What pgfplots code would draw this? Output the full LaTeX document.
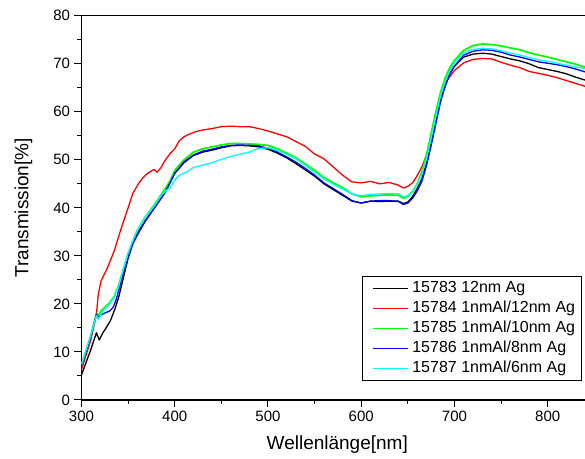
\documentclass[border=0pt]{standalone}
\usepackage{fontspec}
\setmainfont{Liberation Sans}
\usepackage{pgfplots}
\pgfplotsset{compat=1.18}
\definecolor{ogreen}{rgb}{0,1,0}
\definecolor{ocyan}{rgb}{0,1,1}
\definecolor{oblue}{rgb}{0,0,1}
\definecolor{ored}{rgb}{1,0,0}

% transmission spectra, values (nm, %)
\pgfplotstableread{
lam T
300 5.2
310 10.5
316 14.0
319 12.5
323 14.0
327 15.2
331 16.5
336 19.0
340 21.5
345 25.5
350 29.5
355 32.5
360 34.8
368 37.2
378 40.0
389 43.0
395 45.3
400 47.2
410 49.4
420 50.9
430 51.6
440 52.0
450 52.5
460 52.9
470 53.0
480 52.9
490 52.7
500 52.2
510 51.4
520 50.4
530 49.2
540 47.9
550 46.6
560 45.0
570 43.8
580 42.6
590 41.4
600 41.0
610 41.4
620 41.3
630 41.4
640 41.4
645 40.9
650 41.2
655 42.3
660 44.0
665 46.0
670 49.3
675 53.5
680 58.0
685 62.5
690 65.5
695 68.0
700 69.5
710 71.4
720 72.0
730 72.2
740 72.0
750 71.5
760 71.0
770 70.6
780 70.0
790 69.2
800 68.8
810 68.4
820 67.9
830 67.2
840 66.6
}\tblack

\pgfplotstableread{
lam T
300 6.3
310 12.5
316 17.8
318 22.0
321 24.8
328 27.6
335 31.0
343 36.0
350 40.0
355 43.0
361 45.0
366 46.3
371 47.2
376 47.8
378 48.0
381 47.4
385 48.3
390 50.0
395 51.3
400 52.3
405 54.0
410 54.8
415 55.3
423 55.9
430 56.2
440 56.5
450 56.9
460 57.0
470 56.9
480 56.9
490 56.5
500 56.0
510 55.4
520 54.8
530 53.8
540 52.8
550 51.2
560 50.2
570 48.5
580 46.8
590 45.4
600 45.2
610 45.5
620 45.0
630 45.3
640 44.7
645 44.1
650 44.5
655 45.2
660 46.7
665 48.5
670 51.0
675 55.0
680 59.5
685 63.5
690 66.0
700 68.6
710 70.2
720 70.9
730 71.1
740 71.0
750 70.3
760 69.7
770 69.2
780 68.4
790 68.0
800 67.6
810 67.1
820 66.5
830 65.9
840 65.3
}\tred

\pgfplotstableread{
lam T
300 7.2
310 13.4
316 18.0
318 17.6
321 18.5
325 19.3
330 20.2
335 21.5
340 24.0
343 26.0
350 30.5
355 33.0
359 35.0
368 38.0
378 40.6
389 43.8
395 45.6
400 47.8
410 50.0
420 51.6
430 52.3
440 52.7
450 53.1
460 53.4
470 53.4
480 53.3
490 53.2
500 53.0
510 52.3
520 51.4
530 50.4
540 49.1
550 47.8
560 46.3
570 45.2
580 44.2
590 42.9
600 42.3
610 42.5
620 42.6
630 42.7
640 42.6
645 42.0
650 42.4
655 43.4
660 45.0
665 47.5
670 51.0
675 55.5
680 60.0
685 64.0
690 67.0
695 69.2
700 70.7
710 72.8
720 73.8
730 74.1
740 74.0
750 73.7
760 73.3
770 72.9
780 72.3
790 71.8
800 71.4
810 70.9
820 70.4
830 69.9
840 69.3
}\tgreen

\pgfplotstableread{
lam T
300 7.2
310 13.2
316 17.9
318 17.2
321 17.7
325 18.1
330 18.5
334 19.3
337 20.8
340 22.8
343 25.0
350 29.8
355 32.5
359 34.0
368 37.1
378 39.9
389 43.0
395 45.2
400 47.2
410 49.6
420 51.0
430 51.8
440 52.2
450 52.7
460 53.0
470 53.1
480 53.0
490 52.9
500 52.4
510 51.6
520 50.6
530 49.5
540 48.2
550 46.8
560 45.2
570 44.0
580 42.8
590 41.5
600 41.0
610 41.4
620 41.5
630 41.5
640 41.3
645 40.7
650 41.0
655 42.0
660 43.5
665 45.5
670 48.8
675 53.0
680 57.5
685 62.0
690 65.3
695 67.8
700 69.5
710 71.8
720 72.6
730 72.9
740 72.8
750 72.4
760 71.8
770 71.4
780 70.9
790 70.4
800 70.1
810 69.8
820 69.4
830 68.9
840 68.3
}\tblue

\pgfplotstableread{
lam T
300 7.4
310 13.5
316 17.6
318 16.8
321 17.8
325 19.0
330 20.0
335 21.3
340 23.8
343 26.0
350 30.5
355 33.2
359 35.0
368 38.0
378 40.4
385 42.5
390 43.5
395 44.2
400 45.8
405 46.8
413 47.5
420 48.4
430 48.9
440 49.4
450 50.1
460 50.7
470 51.2
480 51.6
490 52.4
500 52.5
510 52.0
520 51.1
530 50.2
540 48.8
550 47.4
560 46.0
570 44.9
580 43.9
590 42.9
600 42.5
610 42.8
620 42.9
630 43.0
640 42.9
645 42.3
650 42.5
655 43.3
660 44.8
665 47.0
670 50.2
675 54.5
680 59.0
685 63.3
690 66.3
695 68.6
700 70.2
710 72.3
720 73.0
730 73.2
740 73.1
750 72.7
760 72.2
770 71.8
780 71.3
790 70.8
800 70.5
810 70.1
820 69.7
830 69.3
840 69.0
}\tcyan

\begin{document}
\begin{tikzpicture}
\begin{axis}[
  scale only axis, width=503.5pt, height=384.3pt,
  xmin=300, xmax=840, ymin=0, ymax=80,
  axis x line=box, axis y line=left,
  axis line style={-, line width=1.1pt},
  xtick={300,400,...,800}, ytick={0,10,...,80},
  minor x tick num=1, minor y tick num=1,
  xtick pos=bottom, ytick pos=left,
  tick align=outside,
  major tick length=7pt, minor tick length=4pt,
  every tick/.style={black, line width=1pt},
  /pgf/number format/assume math mode=true,
  ticklabel style={font=\fontsize{15}{17}\selectfont},
  xticklabel style={yshift=-1pt},
  yticklabel style={xshift=-1pt},
  label style={font=\fontsize{19}{22}\selectfont},
  xlabel={Wellenlänge[nm]},
  ylabel={Transmission[\%]},
  xlabel style={at={(axis description cs:0.5,0)}, anchor=center, yshift=-45pt, xshift=4pt},
  ylabel style={at={(axis description cs:0,0.5)}, anchor=center, yshift=58pt},
  legend style={at={(0.993,0.323)}, anchor=north east, draw=black, line width=0.7pt,
    font=\fontsize{16}{19}\selectfont, row sep=4pt, inner xsep=4pt, inner ysep=4pt,
    nodes={inner ysep=0pt, inner xsep=2pt, text height=12pt, text depth=4pt}},
  legend cell align=left,
  legend image code/.code={%
    \path (-5pt,0pt) (37pt,0pt);
    \draw[mark repeat=2, mark phase=2, #1, line width=1.4pt] plot coordinates {(0pt,0pt) (17.5pt,0pt) (35pt,0pt)};},
  every axis plot/.append style={line width=1.3pt, line join=round},
]
\addplot[black] table[x=lam, y=T] {\tblack};
\addplot[ored] table[x=lam, y=T] {\tred};
\addplot[ogreen, line width=1.7pt] table[x=lam, y=T] {\tgreen};
\addplot[oblue] table[x=lam, y=T] {\tblue};
\addplot[ocyan] table[x=lam, y=T] {\tcyan};
\legend{15783 12nm Ag, 15784 1nmAl/12nm Ag, 15785 1nmAl/10nm Ag, 15786 1nmAl/8nm Ag, 15787 1nmAl/6nm Ag}
\coordinate (bl) at (rel axis cs:0,0);
\coordinate (tr) at (rel axis cs:1,1);
\end{axis}
\pgfresetboundingbox
\path[use as bounding box] ([xshift=-81.5pt,yshift=-59pt]bl) rectangle ([yshift=15.7pt]tr);
\end{tikzpicture}
\end{document}
